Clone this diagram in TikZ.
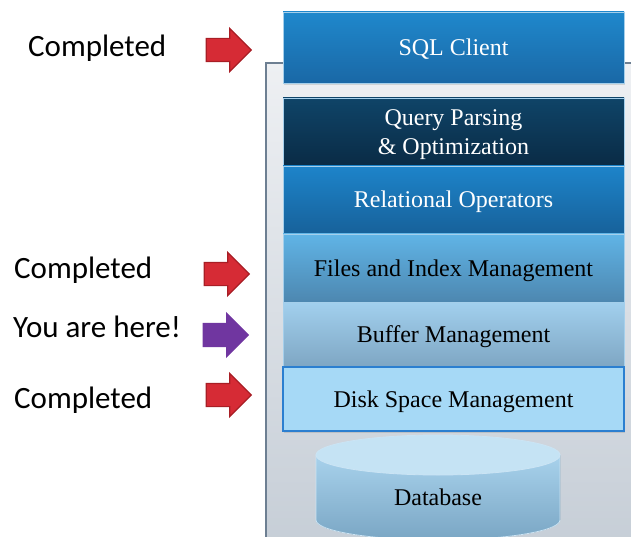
\documentclass[tikz,border=0pt]{standalone}
\usepackage{fontspec}
\setmainfont{Liberation Serif}
\newfontfamily\notefont{Carlito}
\usetikzlibrary{shapes.arrows, shadows}

\definecolor{sqltop}{RGB}{31,136,204}
\definecolor{sqlbot}{RGB}{26,104,166}
\definecolor{qrytop}{RGB}{15,68,104}
\definecolor{qrybot}{RGB}{10,43,69}
\definecolor{reltop}{RGB}{29,132,202}
\definecolor{relbot}{RGB}{23,97,154}
\definecolor{filtop}{RGB}{96,180,230}
\definecolor{filbot}{RGB}{77,135,176}
\definecolor{buftop}{RGB}{162,208,238}
\definecolor{bufbot}{RGB}{126,166,195}
\definecolor{diskfill}{RGB}{166,217,246}
\definecolor{diskline}{RGB}{43,127,208}
\definecolor{dbtop}{RGB}{197,227,244}
\definecolor{dbbodytop}{RGB}{168,210,236}
\definecolor{dbbodybot}{RGB}{122,166,196}
\definecolor{paneltop}{RGB}{238,240,243}
\definecolor{panelbot}{RGB}{197,205,214}
\definecolor{panelline}{RGB}{109,127,146}
\definecolor{donered}{RGB}{214,43,53}
\definecolor{doneredline}{RGB}{168,30,37}
\definecolor{herepurple}{RGB}{112,54,160}

\tikzset{
  layerbox/.style={rectangle, minimum width=341pt, inner sep=0pt, align=center,
    text height=18pt, text depth=2pt,
    font=\fontsize{24}{29}\selectfont, draw=white!60!sqltop, line width=0.6pt,
    drop shadow={opacity=0.25, shadow xshift=1pt, shadow yshift=-2pt}},
  arrowmark/.style={single arrow, single arrow head extend=10pt, minimum height=45pt,
    inner xsep=0pt, inner ysep=11pt, line width=1.2pt},
  notelabel/.style={anchor=base west, inner sep=0pt, font=\notefont\fontsize{31}{36}\selectfont}
}

\begin{document}
\begin{tikzpicture}[x=1pt, y=-1pt]
  \useasboundingbox (0,0) rectangle (631,537);
  \clip (0,0) rectangle (631,537);

  % Grey panel behind the layers
  \draw[panelline, line width=1.2pt, top color=paneltop, bottom color=panelbot] (266,63) rectangle (650,560);

  % Layers of the stack
  \node[layerbox, minimum height=71pt, top color=sqltop, bottom color=sqlbot, text=white] (sql) at (453.5,47.5) {SQL Client};
  \node[layerbox, minimum height=68pt, text height=47pt, top color=qrytop, bottom color=qrybot, text=white] (qry) at (453.5,132) {Query Parsing\\\& Optimization};
  \node[layerbox, minimum height=68pt, top color=reltop, bottom color=relbot, text=white] (rel) at (453.5,200) {Relational Operators};
  \node[layerbox, minimum height=68pt, top color=filtop, bottom color=filbot] (fil) at (453.5,268) {Files and Index Management};
  \node[layerbox, minimum height=65pt, top color=buftop, bottom color=bufbot] (buf) at (453.5,334.5) {Buffer Management};
  \node[layerbox, minimum height=64pt, fill=diskfill, draw=diskline, line width=1.2pt] (disk) at (453.5,399) {Disk Space Management};

  % Database cylinder
  \fill[top color=dbbodytop, bottom color=dbbodybot, draw=white!40!dbbodytop, line width=0.8pt]
    (316,455) -- (316,520) arc[start angle=180, end angle=360, x radius=122pt, y radius=20pt] -- (560,455) -- cycle;
  \draw[fill=dbtop, draw=white!40!dbbodytop, line width=0.8pt] (438,455) ellipse [x radius=122pt, y radius=20pt];
  \node[font=\fontsize{24}{29}\selectfont] (db) at (438,497) {Database};

  % Progress arrows and notes
  \node[arrowmark, fill=donered, draw=doneredline] (arrsql) at (223,50) {};
  \node[arrowmark, fill=donered, draw=doneredline] (arrfil) at (221,274) {};
  \node[arrowmark, fill=herepurple, draw=herepurple] (arrbuf) at (220,335) {};
  \node[arrowmark, fill=donered, draw=doneredline] (arrdisk) at (223,395) {};
  \node[notelabel] (lblsql) at (28,57) {Completed};
  \node[notelabel] (lblfil) at (14,278) {Completed};
  \node[notelabel] (lblbuf) at (13,337) {You are here!};
  \node[notelabel] (lbldisk) at (14,408) {Completed};
\end{tikzpicture}
\end{document}
